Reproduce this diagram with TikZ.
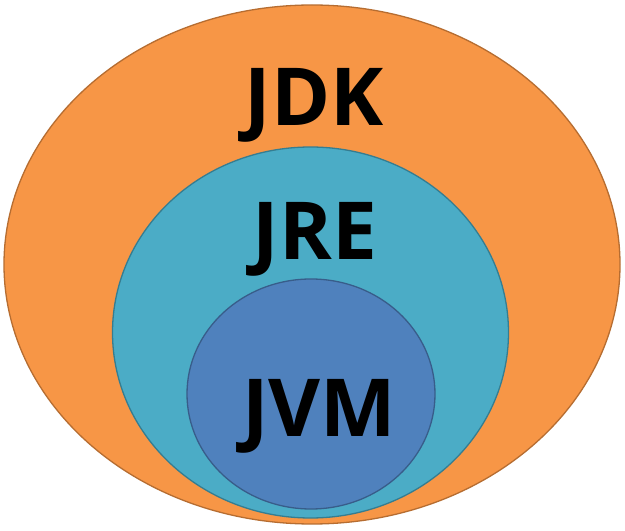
\documentclass[tikz,border=0pt]{standalone}
\usepackage{fontspec}
\setmainfont{Open Sans}
\usepackage{xcolor}
\usepackage{tikz}
\definecolor{JOrange}{RGB}{247, 150, 70}
\definecolor{JOrangeLine}{RGB}{182, 109, 49}
\definecolor{JCyan}{RGB}{75, 172, 198}
\definecolor{JCyanLine}{RGB}{53, 125, 145}
\definecolor{JBlue}{RGB}{79, 129, 189}
\definecolor{JBlueLine}{RGB}{56, 93, 138}
\tikzset{
  layer/.style={line width=1.3pt},
  tag/.style={anchor=base, inner sep=0pt, font=\fontsize{80}{96}\selectfont\bfseries}
}
\begin{document}
\begin{tikzpicture}[x=1pt,y=1pt]
  \path[use as bounding box] (0,0) rectangle (625,531);
  \fill[white] (0,0) rectangle (625,531);
  \filldraw[layer, fill=JOrange, draw=JOrangeLine] (312,266.5) ellipse [x radius=308, y radius=259.5];
  \filldraw[layer, fill=JCyan, draw=JCyanLine] (310.5,198.5) ellipse [x radius=198, y radius=185.5];
  \filldraw[layer, fill=JBlue, draw=JBlueLine] (311,137) ellipse [x radius=124, y radius=115];
  \node[tag] (jdk) at (314,405) {JDK};
  \node[tag] (jre) at (315,271) {JRE};
  \node[tag] (jvm) at (319,94) {JVM};
\end{tikzpicture}
\end{document}
